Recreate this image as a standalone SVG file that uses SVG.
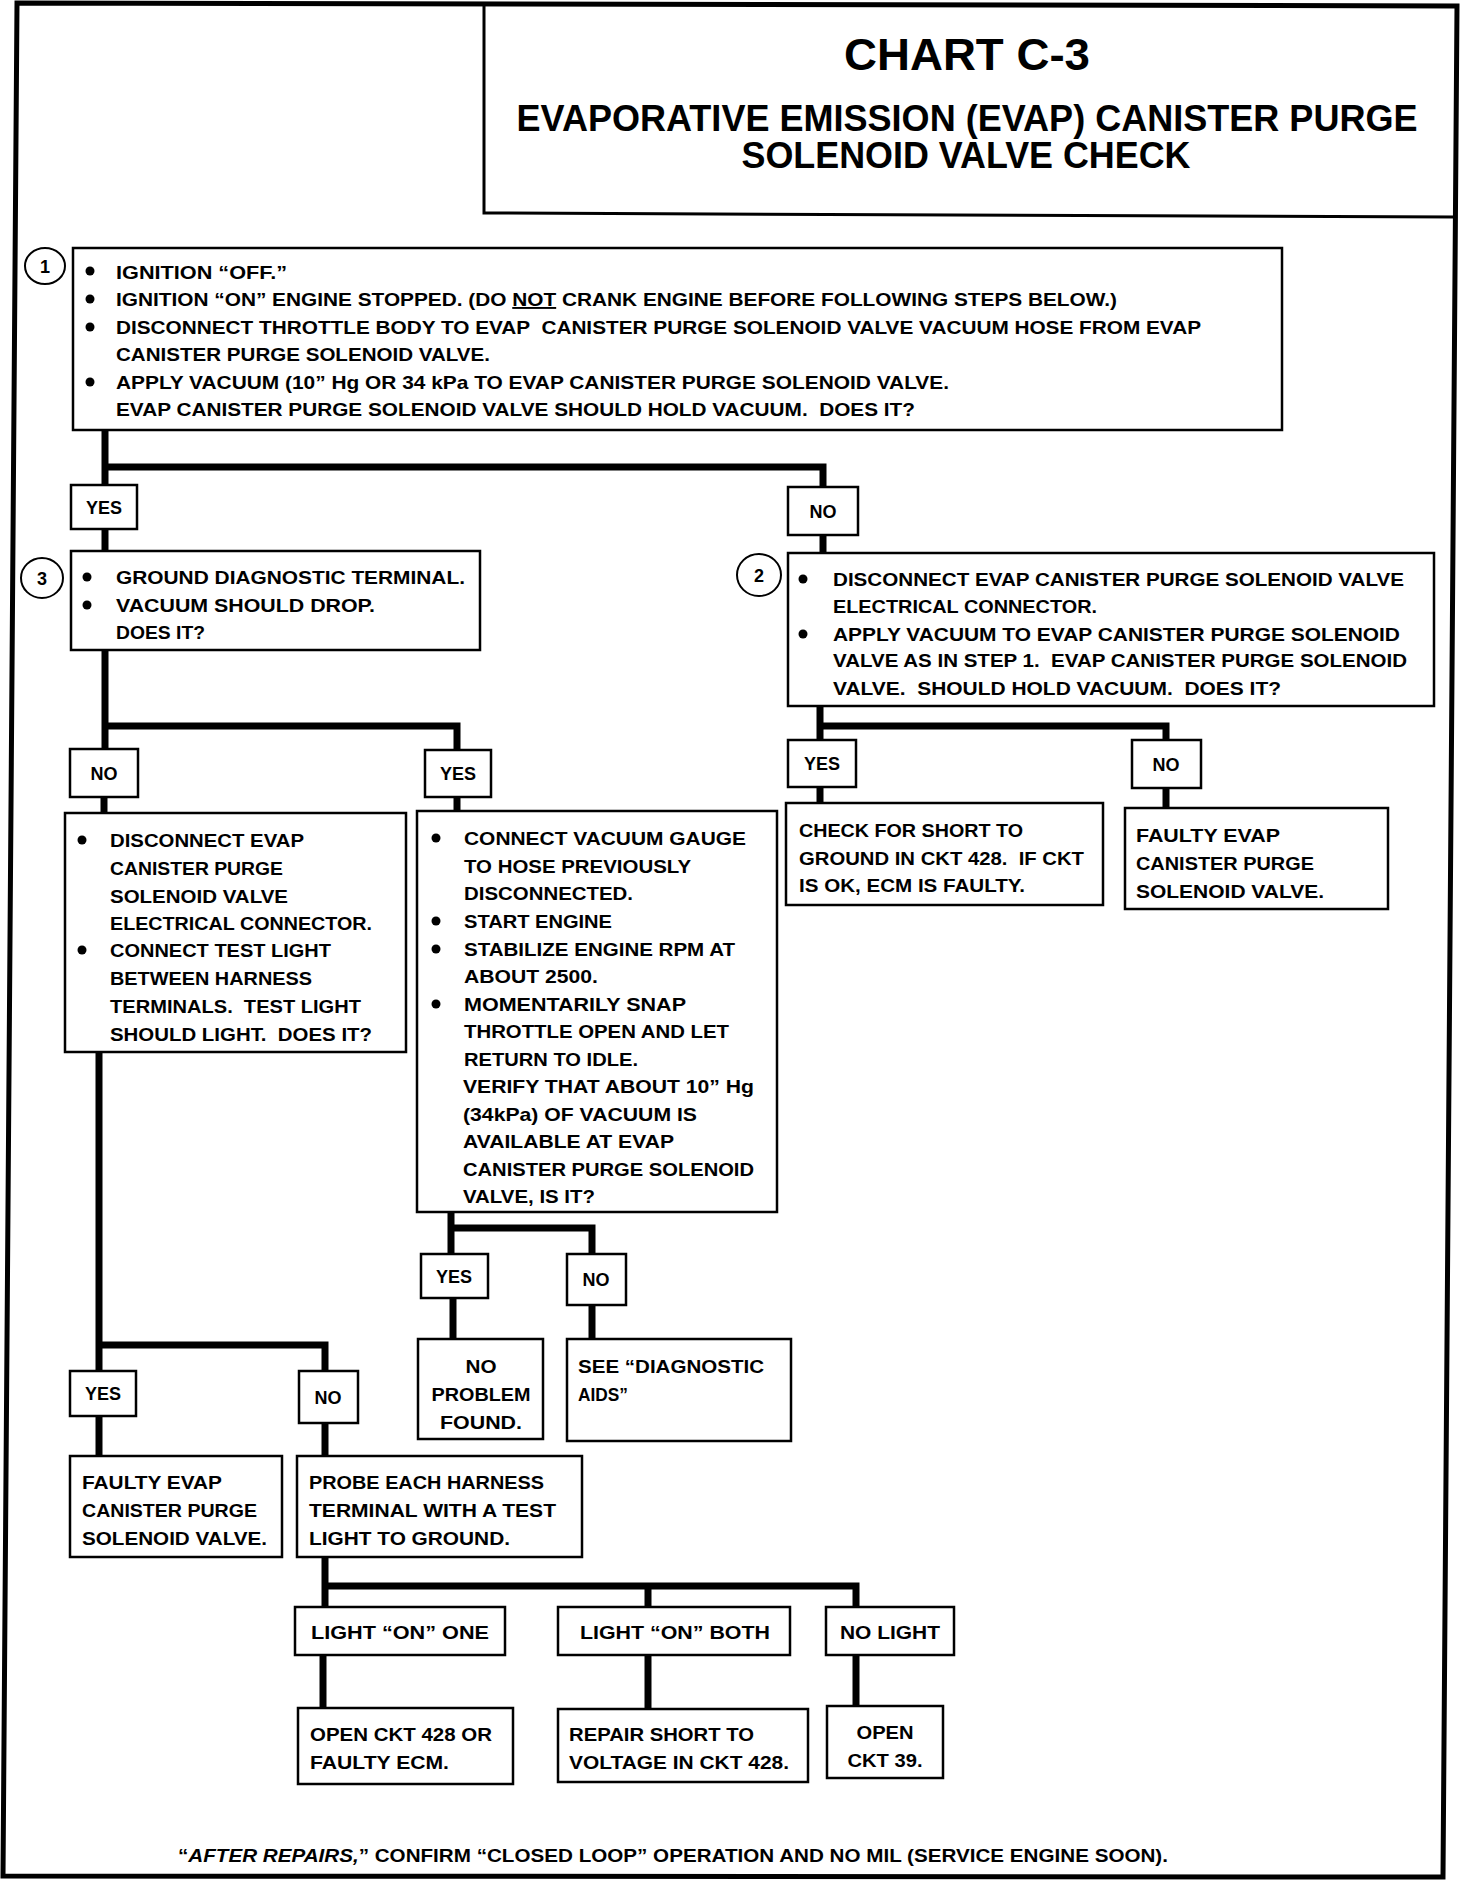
<svg xmlns="http://www.w3.org/2000/svg" width="1472" height="1882" viewBox="0 0 1472 1882">
<style>
.frame{fill:none;stroke:#000;stroke-width:5}
.box{fill:#fff;stroke:#000;stroke-width:2.5}
.lbl{fill:#fff;stroke:#000;stroke-width:2.5}
.conn path{fill:none;stroke:#000;stroke-width:7;stroke-linejoin:miter;stroke-linecap:butt}
text{font-family:"Liberation Sans",Arial,sans-serif;font-weight:bold;font-size:19px;fill:#000;white-space:pre}
.l{font-size:18px;text-anchor:middle}
.c{text-anchor:middle}
.num{fill:#fff;stroke:#000;stroke-width:2}
.dot{fill:#000}
</style>
<rect width="1472" height="1882" fill="#fff"/>
<path class="frame" d="M17,3 L1457,6 L1443,1877 L3,1876 Z"/>
<g id="title">
<path d="M484,4 L484,213 L1456,217" fill="none" stroke="#000" stroke-width="3"/>
<text x="967" y="70" class="c" style="font-size:44px" textLength="246" lengthAdjust="spacingAndGlyphs">CHART C-3</text>
<text x="967" y="131" class="c" style="font-size:37px" textLength="901" lengthAdjust="spacingAndGlyphs">EVAPORATIVE EMISSION (EVAP) CANISTER PURGE</text>
<text x="966" y="168" class="c" style="font-size:37px" textLength="449" lengthAdjust="spacingAndGlyphs">SOLENOID VALVE CHECK</text>
</g>
<g id="connectors" class="conn">
<path d="M105,430 V485 M105,467 H823 V487"/>
<path d="M105,529 V551"/>
<path d="M823,535 V553"/>
<path d="M105,650 V749 M105,726 H457 V750"/>
<path d="M104,797 V813"/>
<path d="M457,797 V811"/>
<path d="M99,1052 V1371 M99,1345 H325 V1371"/>
<path d="M99,1416 V1456"/>
<path d="M325,1423 V1456"/>
<path d="M451,1212 V1254 M451,1228 H592 V1254"/>
<path d="M453,1298 V1339"/>
<path d="M592,1305 V1339"/>
<path d="M820,706 V740 M820,726 H1166 V740"/>
<path d="M820,787 V803"/>
<path d="M1166,788 V808"/>
<path d="M325,1558 V1607 M325,1586 H856 V1607 M648,1586 V1607"/>
<path d="M323,1655 V1708"/>
<path d="M648,1655 V1709"/>
<path d="M856,1655 V1706"/>
</g>
<g id="step1">
<rect class="box" x="73" y="248" width="1209" height="182"/>
<ellipse class="num" cx="45" cy="266" rx="20" ry="18"/>
<text x="45" y="273" class="c" style="font-size:18px">1</text>
<circle class="dot" cx="90" cy="271" r="4.5"/>
<circle class="dot" cx="90" cy="299" r="4.5"/>
<circle class="dot" cx="90" cy="327" r="4.5"/>
<circle class="dot" cx="90" cy="382" r="4.5"/>
<text x="116" y="279" textLength="171" lengthAdjust="spacingAndGlyphs">IGNITION “OFF.”</text>
<text x="116" y="306" textLength="1001" lengthAdjust="spacingAndGlyphs">IGNITION “ON” ENGINE STOPPED. (DO <tspan text-decoration="underline">NOT</tspan> CRANK ENGINE BEFORE FOLLOWING STEPS BELOW.)</text>
<text x="116" y="334" textLength="1085" lengthAdjust="spacingAndGlyphs">DISCONNECT THROTTLE BODY TO EVAP  CANISTER PURGE SOLENOID VALVE VACUUM HOSE FROM EVAP</text>
<text x="116" y="361" textLength="374" lengthAdjust="spacingAndGlyphs">CANISTER PURGE SOLENOID VALVE.</text>
<text x="116" y="389" textLength="833" lengthAdjust="spacingAndGlyphs">APPLY VACUUM (10” Hg OR 34 kPa TO EVAP CANISTER PURGE SOLENOID VALVE.</text>
<text x="116" y="416" textLength="799" lengthAdjust="spacingAndGlyphs">EVAP CANISTER PURGE SOLENOID VALVE SHOULD HOLD VACUUM.  DOES IT?</text>
</g>
<g id="yes1"><rect class="lbl" x="71" y="485" width="66" height="44"/><text x="104" y="514" class="l">YES</text></g>
<g id="no1"><rect class="lbl" x="788" y="487" width="70" height="48"/><text x="823" y="518" class="l">NO</text></g>
<g id="step3">
<rect class="box" x="71" y="551" width="409" height="99"/>
<ellipse class="num" cx="42" cy="578" rx="21" ry="20"/>
<text x="42" y="585" class="c" style="font-size:18px">3</text>
<circle class="dot" cx="87" cy="577" r="4.5"/>
<circle class="dot" cx="87" cy="605" r="4.5"/>
<text x="116" y="584" textLength="349" lengthAdjust="spacingAndGlyphs">GROUND DIAGNOSTIC TERMINAL.</text>
<text x="116" y="612" textLength="259" lengthAdjust="spacingAndGlyphs">VACUUM SHOULD DROP.</text>
<text x="116" y="639" textLength="89" lengthAdjust="spacingAndGlyphs">DOES IT?</text>
</g>
<g id="step2">
<rect class="box" x="788" y="553" width="646" height="153"/>
<ellipse class="num" cx="759" cy="575" rx="22" ry="21"/>
<text x="759" y="582" class="c" style="font-size:18px">2</text>
<circle class="dot" cx="803" cy="579" r="4.5"/>
<circle class="dot" cx="803" cy="634" r="4.5"/>
<text x="833" y="586" textLength="571" lengthAdjust="spacingAndGlyphs">DISCONNECT EVAP CANISTER PURGE SOLENOID VALVE</text>
<text x="833" y="613" textLength="264" lengthAdjust="spacingAndGlyphs">ELECTRICAL CONNECTOR.</text>
<text x="833" y="641" textLength="567" lengthAdjust="spacingAndGlyphs">APPLY VACUUM TO EVAP CANISTER PURGE SOLENOID</text>
<text x="833" y="667" textLength="574" lengthAdjust="spacingAndGlyphs">VALVE AS IN STEP 1.  EVAP CANISTER PURGE SOLENOID</text>
<text x="833" y="695" textLength="448" lengthAdjust="spacingAndGlyphs">VALVE.  SHOULD HOLD VACUUM.  DOES IT?</text>
</g>
<g id="no2"><rect class="lbl" x="70" y="749" width="68" height="48"/><text x="104" y="780" class="l">NO</text></g>
<g id="yes2"><rect class="lbl" x="425" y="750" width="66" height="47"/><text x="458" y="780" class="l">YES</text></g>
<g id="yes3"><rect class="lbl" x="788" y="740" width="68" height="47"/><text x="822" y="770" class="l">YES</text></g>
<g id="no3"><rect class="lbl" x="1132" y="740" width="69" height="48"/><text x="1166" y="771" class="l">NO</text></g>
<g id="check-short">
<rect class="box" x="786" y="803" width="317" height="102"/>
<text x="799" y="837" textLength="224" lengthAdjust="spacingAndGlyphs">CHECK FOR SHORT TO</text>
<text x="799" y="865" textLength="285" lengthAdjust="spacingAndGlyphs">GROUND IN CKT 428.  IF CKT</text>
<text x="799" y="892" textLength="226" lengthAdjust="spacingAndGlyphs">IS OK, ECM IS FAULTY.</text>
</g>
<g id="faulty-right">
<rect class="box" x="1125" y="808" width="263" height="101"/>
<text x="1136" y="842" textLength="144" lengthAdjust="spacingAndGlyphs">FAULTY EVAP</text>
<text x="1136" y="870" textLength="178" lengthAdjust="spacingAndGlyphs">CANISTER PURGE</text>
<text x="1136" y="898" textLength="188" lengthAdjust="spacingAndGlyphs">SOLENOID VALVE.</text>
</g>
<g id="test-light">
<rect class="box" x="65" y="813" width="341" height="239"/>
<circle class="dot" cx="82" cy="840" r="4.5"/>
<circle class="dot" cx="82" cy="950" r="4.5"/>
<text x="110" y="847" textLength="194" lengthAdjust="spacingAndGlyphs">DISCONNECT EVAP</text>
<text x="110" y="875" textLength="173" lengthAdjust="spacingAndGlyphs">CANISTER PURGE</text>
<text x="110" y="903" textLength="178" lengthAdjust="spacingAndGlyphs">SOLENOID VALVE</text>
<text x="110" y="930" textLength="262" lengthAdjust="spacingAndGlyphs">ELECTRICAL CONNECTOR.</text>
<text x="110" y="957" textLength="221" lengthAdjust="spacingAndGlyphs">CONNECT TEST LIGHT</text>
<text x="110" y="985" textLength="202" lengthAdjust="spacingAndGlyphs">BETWEEN HARNESS</text>
<text x="110" y="1013" textLength="251" lengthAdjust="spacingAndGlyphs">TERMINALS.  TEST LIGHT</text>
<text x="110" y="1041" textLength="262" lengthAdjust="spacingAndGlyphs">SHOULD LIGHT.  DOES IT?</text>
</g>
<g id="vacuum-gauge">
<rect class="box" x="417" y="811" width="360" height="401"/>
<circle class="dot" cx="436" cy="838" r="4.5"/>
<circle class="dot" cx="436" cy="921" r="4.5"/>
<circle class="dot" cx="436" cy="949" r="4.5"/>
<circle class="dot" cx="436" cy="1004" r="4.5"/>
<text x="464" y="845" textLength="282" lengthAdjust="spacingAndGlyphs">CONNECT VACUUM GAUGE</text>
<text x="464" y="873" textLength="227" lengthAdjust="spacingAndGlyphs">TO HOSE PREVIOUSLY</text>
<text x="464" y="900" textLength="169" lengthAdjust="spacingAndGlyphs">DISCONNECTED.</text>
<text x="464" y="928" textLength="148" lengthAdjust="spacingAndGlyphs">START ENGINE</text>
<text x="464" y="956" textLength="271" lengthAdjust="spacingAndGlyphs">STABILIZE ENGINE RPM AT</text>
<text x="464" y="983" textLength="134" lengthAdjust="spacingAndGlyphs">ABOUT 2500.</text>
<text x="464" y="1011" textLength="222" lengthAdjust="spacingAndGlyphs">MOMENTARILY SNAP</text>
<text x="464" y="1038" textLength="265" lengthAdjust="spacingAndGlyphs">THROTTLE OPEN AND LET</text>
<text x="464" y="1066" textLength="174" lengthAdjust="spacingAndGlyphs">RETURN TO IDLE.</text>
<text x="463" y="1093" textLength="291" lengthAdjust="spacingAndGlyphs">VERIFY THAT ABOUT 10” Hg</text>
<text x="463" y="1121" textLength="234" lengthAdjust="spacingAndGlyphs">(34kPa) OF VACUUM IS</text>
<text x="463" y="1148" textLength="211" lengthAdjust="spacingAndGlyphs">AVAILABLE AT EVAP</text>
<text x="463" y="1176" textLength="291" lengthAdjust="spacingAndGlyphs">CANISTER PURGE SOLENOID</text>
<text x="463" y="1203" textLength="132" lengthAdjust="spacingAndGlyphs">VALVE, IS IT?</text>
</g>
<g id="yes4"><rect class="lbl" x="421" y="1254" width="67" height="44"/><text x="454" y="1283" class="l">YES</text></g>
<g id="no4"><rect class="lbl" x="567" y="1254" width="59" height="51"/><text x="596" y="1286" class="l">NO</text></g>
<g id="no-problem">
<rect class="box" x="418" y="1339" width="125" height="100"/>
<text x="481" y="1373" class="c" textLength="31" lengthAdjust="spacingAndGlyphs">NO</text>
<text x="481" y="1401" class="c" textLength="99" lengthAdjust="spacingAndGlyphs">PROBLEM</text>
<text x="481" y="1429" class="c" textLength="82" lengthAdjust="spacingAndGlyphs">FOUND.</text>
</g>
<g id="diag-aids">
<rect class="box" x="567" y="1339" width="224" height="102"/>
<text x="578" y="1373" textLength="186" lengthAdjust="spacingAndGlyphs">SEE “DIAGNOSTIC</text>
<text x="578" y="1401" textLength="50" lengthAdjust="spacingAndGlyphs">AIDS”</text>
</g>
<g id="yes5"><rect class="lbl" x="70" y="1371" width="66" height="45"/><text x="103" y="1400" class="l">YES</text></g>
<g id="no5"><rect class="lbl" x="299" y="1371" width="59" height="52"/><text x="328" y="1404" class="l">NO</text></g>
<g id="faulty-left">
<rect class="box" x="70" y="1456" width="212" height="101"/>
<text x="82" y="1489" textLength="140" lengthAdjust="spacingAndGlyphs">FAULTY EVAP</text>
<text x="82" y="1517" textLength="175" lengthAdjust="spacingAndGlyphs">CANISTER PURGE</text>
<text x="82" y="1545" textLength="185" lengthAdjust="spacingAndGlyphs">SOLENOID VALVE.</text>
</g>
<g id="probe">
<rect class="box" x="297" y="1456" width="285" height="101"/>
<text x="309" y="1489" textLength="235" lengthAdjust="spacingAndGlyphs">PROBE EACH HARNESS</text>
<text x="309" y="1517" textLength="247" lengthAdjust="spacingAndGlyphs">TERMINAL WITH A TEST</text>
<text x="309" y="1545" textLength="201" lengthAdjust="spacingAndGlyphs">LIGHT TO GROUND.</text>
</g>
<g id="light-one"><rect class="lbl" x="295" y="1607" width="210" height="48"/><text x="400" y="1639" class="l" textLength="178" lengthAdjust="spacingAndGlyphs">LIGHT “ON” ONE</text></g>
<g id="light-both"><rect class="lbl" x="558" y="1607" width="232" height="48"/><text x="675" y="1639" class="l" textLength="190" lengthAdjust="spacingAndGlyphs">LIGHT “ON” BOTH</text></g>
<g id="no-light"><rect class="lbl" x="826" y="1607" width="128" height="48"/><text x="890" y="1639" class="l" textLength="100" lengthAdjust="spacingAndGlyphs">NO LIGHT</text></g>
<g id="open-428">
<rect class="box" x="298" y="1708" width="215" height="76"/>
<text x="310" y="1741" textLength="182" lengthAdjust="spacingAndGlyphs">OPEN CKT 428 OR</text>
<text x="310" y="1769" textLength="139" lengthAdjust="spacingAndGlyphs">FAULTY ECM.</text>
</g>
<g id="repair-short">
<rect class="box" x="558" y="1709" width="250" height="73"/>
<text x="569" y="1741" textLength="185" lengthAdjust="spacingAndGlyphs">REPAIR SHORT TO</text>
<text x="569" y="1769" textLength="220" lengthAdjust="spacingAndGlyphs">VOLTAGE IN CKT 428.</text>
</g>
<g id="open-39">
<rect class="box" x="827" y="1706" width="116" height="72"/>
<text x="885" y="1739" class="c" textLength="57" lengthAdjust="spacingAndGlyphs">OPEN</text>
<text x="885" y="1767" class="c" textLength="75" lengthAdjust="spacingAndGlyphs">CKT 39.</text>
</g>
<g id="footnote">
<text x="178" y="1862" style="font-size:18px" textLength="990" lengthAdjust="spacingAndGlyphs">“<tspan font-style="italic">AFTER REPAIRS,</tspan>” CONFIRM “CLOSED LOOP” OPERATION AND NO MIL (SERVICE ENGINE SOON).</text>
</g>
</svg>
